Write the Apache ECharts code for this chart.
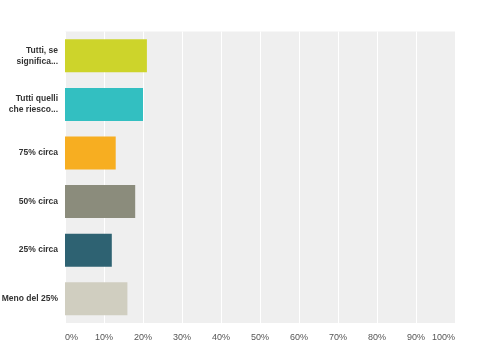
<!DOCTYPE html>
<html><head><meta charset="utf-8">
<script src="https://cdn.jsdelivr.net/npm/echarts@6/dist/echarts.min.js"></script>
<style>html,body{margin:0;padding:0;background:#fff}#c{width:500px;height:359px}</style>
</head><body><div id="c"></div>
<script>
const categories = ["Tutti, se\nsignifica...", "Tutti quelli\nche riesco...", "75% circa", "50% circa", "25% circa", "Meno del 25%"];
const values = [21, 20, 13, 18, 12, 16];
const colors = ["#cdd42b", "#33bfc1", "#f7ae21", "#8b8c7c", "#2e6272", "#d0cec0"];
const tickLabels = ["0%", "10%", "20%", "30%", "40%", "50%", "60%", "70%", "80%", "90%", "100%"];

const chart = echarts.init(document.getElementById('c'), null, {renderer: 'canvas'});
chart.setOption({
  animation: false,
  grid: {left: 65, right: 45, top: 31.5, bottom: 36, show: true, backgroundColor: '#efefef', borderWidth: 0,
         containLabel: false, outerBoundsMode: 'none'},
  xAxis: {
    type: 'value', min: 0, max: 100, interval: 10,
    axisLine: {show: false}, axisTick: {show: false},
    splitLine: {show: true, lineStyle: {color: '#ffffff', width: 1}},
    axisLabel: {
      formatter: v => tickLabels[Math.round(v / 10)],
      color: '#555', fontSize: 9, fontFamily: 'Liberation Sans, Arial, sans-serif', margin: 10,
      alignMinLabel: 'left', alignMaxLabel: 'right'
    }
  },
  yAxis: {
    type: 'category', data: categories, inverse: true,
    axisLine: {show: false}, axisTick: {show: false}, splitLine: {show: false},
    axisLabel: {color: '#333', fontSize: 8.5, fontWeight: 'bold', fontFamily: 'Liberation Sans, Arial, sans-serif', margin: 7, lineHeight: 11}
  },
  series: [{
    type: 'bar',
    data: values.map((v, i) => ({value: v, itemStyle: {color: colors[i]}})),
    barWidth: 33
  }]
});
</script></body></html>
